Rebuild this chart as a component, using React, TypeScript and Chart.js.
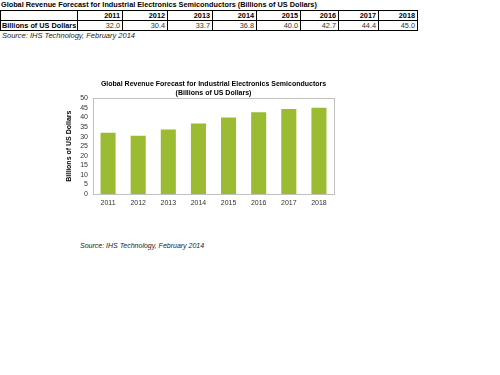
import React, { useEffect, useRef } from "react";
import { Chart, registerables } from "chart.js";

Chart.register(...registerables);

const years = ["2011", "2012", "2013", "2014", "2015", "2016", "2017", "2018"];
const revenue = [32.0, 30.4, 33.7, 36.8, 40.0, 42.7, 44.4, 45.0];
const yTicks = [0, 5, 10, 15, 20, 25, 30, 35, 40, 45, 50];
const tableTitle = "Global Revenue Forecast for Industrial Electronics Semiconductors (Billions of US Dollars)";
const chartTitle = ["Global Revenue Forecast for Industrial Electronics Semiconductors", "(Billions of US Dollars)"];
const rowLabel = "Billions of US Dollars";
const sourceText = "Source: IHS Technology, February 2014";
const colEdges = [0, 77, 122, 167, 212, 256, 300, 338, 378, 417];

const FONT = "'Liberation Sans', Arial, sans-serif";

const framePlugin = {
  id: "frame",
  afterLayout(chart: any) {
    const tb = chart.titleBlock;
    if (tb) {
      tb.left = chart.chartArea.left;
      tb.right = chart.chartArea.right;
      tb.width = tb.right - tb.left;
    }
  },
  afterDraw(chart: any) {
    const { ctx, chartArea } = chart;
    ctx.save();
    ctx.strokeStyle = "#c0c0c0";
    ctx.lineWidth = 1;
    ctx.strokeRect(Math.round(chartArea.left) + 0.5, Math.round(chartArea.top) + 0.5,
      Math.round(chartArea.right - chartArea.left), Math.round(chartArea.bottom - chartArea.top));
    ctx.restore();
  },
};

function BarChart() {
  const ref = useRef<HTMLCanvasElement>(null);
  useEffect(() => {
    if (!ref.current) return;
    const chart = new Chart(ref.current, {
      type: "bar",
      data: {
        labels: years,
        datasets: [{
          data: revenue,
          backgroundColor: "#9bbb33",
          borderWidth: 0,
          barPercentage: 0.5,
          categoryPercentage: 1,
        }],
      },
      options: {
        animation: false,
        responsive: false,
        maintainAspectRatio: false,
        layout: { padding: { left: 0, right: 6, top: 0, bottom: 0 } },
        plugins: {
          legend: { display: false },
          tooltip: { enabled: false },
          title: {
            display: true,
            text: chartTitle,
            color: "#000",
            font: { family: FONT, size: 7, weight: "bold" },
            padding: { top: 6, bottom: 1.5 },
            lineHeight: 1.1,
          },
        },
        scales: {
          x: {
            grid: { display: false, drawTicks: false },
            border: { display: true, color: "#c0c0c0" },
            ticks: { color: "#333", font: { family: FONT, size: 7 }, padding: 5, maxRotation: 0, autoSkip: false },
            afterFit: (s: any) => { s.height = 26; },
          },
          y: {
            min: 0,
            max: 50,
            afterBuildTicks: (s: any) => { s.ticks = yTicks.map((v) => ({ value: v })); },
            grid: { display: false, drawTicks: false },
            border: { display: true, color: "#c0c0c0" },
            ticks: { color: "#333", font: { family: FONT, size: 7 }, padding: 5, autoSkip: false },
            title: {
              display: true,
              text: rowLabel,
              color: "#000",
              font: { family: FONT, size: 7, weight: "bold" },
              padding: { top: 5, bottom: 0 },
            },
            afterFit: (s: any) => { s.width = 33; },
          },
        },
      },
      plugins: [framePlugin],
    });
    return () => chart.destroy();
  }, []);
  return (
    <canvas
      ref={ref}
      width={280}
      height={146}
      style={{ position: "absolute", left: 60, top: 74, width: 280, height: 146 }}
    />
  );
}

export default function App() {
  const cellBase: React.CSSProperties = {
    border: "1px solid #000",
    padding: "0 2px",
    height: 10,
    lineHeight: "9px",
    fontSize: 7.3,
    fontFamily: FONT,
    boxSizing: "border-box",
    whiteSpace: "nowrap",
    overflow: "hidden",
  };
  return (
    <div style={{ position: "absolute", left: 0, top: 0, width: 500, height: 375, background: "#fff", overflow: "hidden" }}>
      <div style={{ position: "absolute", left: 1, top: 0, fontFamily: FONT, fontSize: 7.3, fontWeight: "bold", lineHeight: "10px", whiteSpace: "nowrap" }}>
        {tableTitle}
      </div>
      <table style={{ position: "absolute", left: 0, top: 10, borderCollapse: "collapse", tableLayout: "fixed", width: 417 }}>
        <colgroup>
          {colEdges.slice(1).map((e, i) => (
            <col key={i} style={{ width: e - colEdges[i] }} />
          ))}
        </colgroup>
        <tbody>
          <tr>
            <td style={{ ...cellBase }}></td>
            {years.map((y) => (
              <td key={y} style={{ ...cellBase, textAlign: "right", fontWeight: "bold" }}>{y}</td>
            ))}
          </tr>
          <tr>
            <td style={{ ...cellBase, fontWeight: "bold", padding: "0 1px" }}>{rowLabel}</td>
            {revenue.map((v, i) => (
              <td key={i} style={{ ...cellBase, textAlign: "right", color: "#333" }}>{v.toFixed(1)}</td>
            ))}
          </tr>
        </tbody>
      </table>
      <div style={{ position: "absolute", left: 2, top: 31, fontFamily: FONT, fontSize: 7.5, fontStyle: "italic", lineHeight: "10px", whiteSpace: "nowrap", color: "#222" }}>
        {sourceText}
      </div>
      <BarChart />
      <div style={{ position: "absolute", left: 80, top: 241, fontFamily: FONT, fontSize: 7, fontStyle: "italic", lineHeight: "10px", whiteSpace: "nowrap", color: "#222" }}>
        {sourceText}
      </div>
    </div>
  );
}
